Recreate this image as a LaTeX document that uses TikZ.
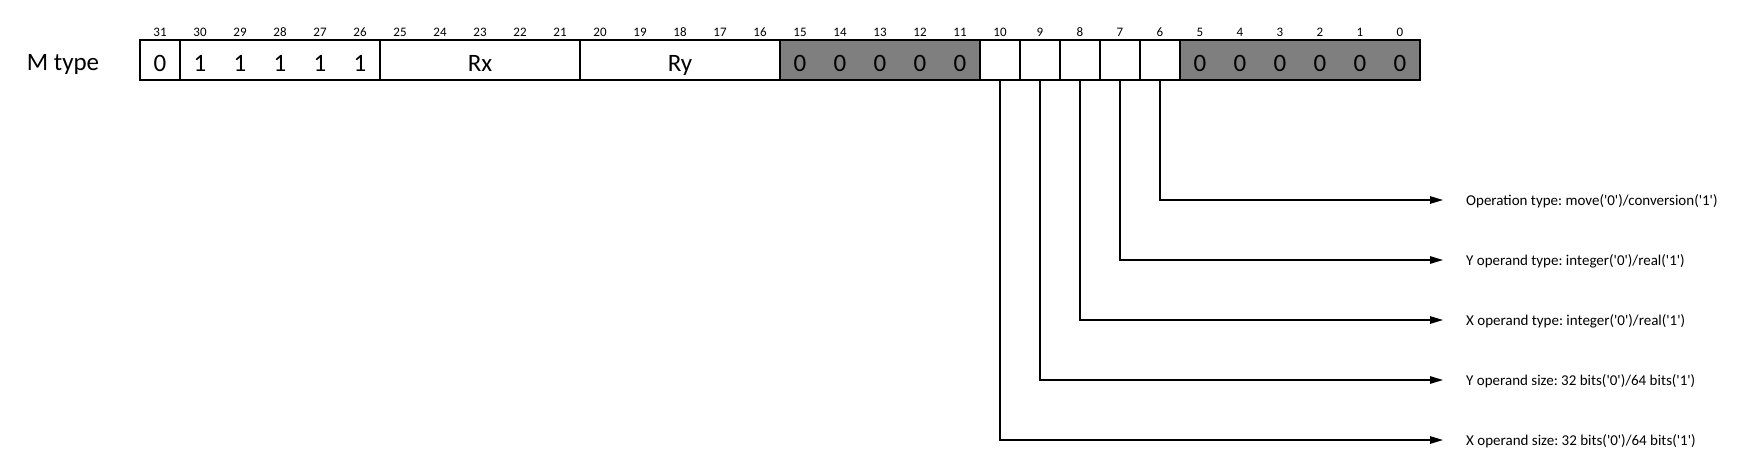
\documentclass[tikz,border=0pt]{standalone}
\usepackage{fontspec}
\newfontfamily\carlito{Carlito}
\usetikzlibrary{arrows.meta,positioning}

\tikzset{
  cell/.style={draw=black, line width=2.7pt, minimum height=40pt, inner sep=0pt, outer sep=0pt, anchor=west, fill=white},
  greycell/.style={cell, fill={rgb,255:red,127;green,127;blue,127}},
  digit/.style={font=\carlito\fontsize{25}{25}\selectfont, anchor=base, inner sep=0pt},
  bitno/.style={font=\carlito\fontsize{13}{13}\selectfont, anchor=base, inner sep=0pt},
  desc/.style={font=\carlito\fontsize{15}{15}\selectfont\frenchspacing, anchor=base west, inner sep=0pt},
  arr/.style={line width=1.2pt, -{Triangle[length=13pt,width=7.5pt]}}
}

\begin{document}
\begin{tikzpicture}[x=1pt,y=-1pt]
\useasboundingbox (0,0) rectangle (1744,461);
\node[digit] (mtype) at (63,70) {M type};
% register fields
\node[cell, minimum width=40pt] (b31) at (140,60) {};
\node[cell, minimum width=200pt, right=0pt of b31] (b30) {};
\node[cell, minimum width=200pt, right=0pt of b30] (rx) {};
\node[cell, minimum width=200pt, right=0pt of rx] (ry) {};
\node[greycell, minimum width=200pt, right=0pt of ry] (g15) {};
\node[cell, minimum width=40pt, right=0pt of g15] (b10) {};
\node[cell, minimum width=40pt, right=0pt of b10] (b9) {};
\node[cell, minimum width=40pt, right=0pt of b9] (b8) {};
\node[cell, minimum width=40pt, right=0pt of b8] (b7) {};
\node[cell, minimum width=40pt, right=0pt of b7] (b6) {};
\node[greycell, minimum width=240pt, right=0pt of b6] (g5) {};
% bit numbers
\foreach \i in {0,...,31}
  \node[bitno] (n\i) at ({1400-40*\i},36) {\i};
% fixed bits
\foreach \i/\d in {31/0,30/1,29/1,28/1,27/1,26/1,15/0,14/0,13/0,12/0,11/0,5/0,4/0,3/0,2/0,1/0,0/0}
  \node[digit] (d\i) at ({1400-40*\i},71) {\d};
\node[digit] (rxtext) at (480,71) {Rx};
\node[digit] (rytext) at (680,71) {Ry};
% flag bits
\foreach \b/\y/\t in {6/200/{Operation type: move('0')/conversion('1')},
                      7/260/{Y operand type: integer('0')/real('1')},
                      8/320/{X operand type: integer('0')/real('1')},
                      9/380/{Y operand size: 32 bits('0')/64 bits('1')},
                      10/440/{X operand size: 32 bits('0')/64 bits('1')}} {
  \coordinate (e\b) at (1443,\y);
  \node[desc] (t\b) at (1466,\y+5) {\t};
  \draw[arr] (b\b.south) |- (e\b);
}
\end{tikzpicture}
\end{document}
